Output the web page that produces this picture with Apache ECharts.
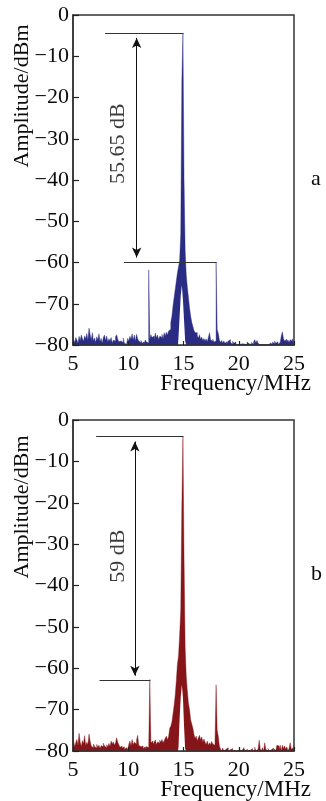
<!DOCTYPE html>
<html>
<head>
<meta charset="utf-8">
<script src="https://cdn.jsdelivr.net/npm/echarts@6/dist/echarts.min.js"></script>
<style>
  html, body { margin: 0; padding: 0; background: #fff; }
  #chart { width: 326px; height: 801px; }
</style>
</head>
<body>
<div id="chart"></div>
<script>
// frequency grid: 5.0 ... 25.0 MHz, 0.1 MHz step
const freqStart = 5;
const freqStep = 0.1;
const freqCount = 201;

// panel a, amplitude in dBm, one row per MHz
const ampA = [
  -79.2, -78.6, -79.5, -78.2, -78.8, -79.6, -77.9, -78.9, -77.6, -78.4,
  -79.1, -77.8, -78.5, -77.2, -78.9, -75.9, -77.5, -78.8, -77.0, -79.0,
  -78.3, -79.4, -78.0, -78.7, -77.3, -79.2, -78.4, -79.6, -78.1, -77.6,
  -78.9, -77.8, -79.3, -78.5, -79.0, -78.2, -79.5, -78.8, -79.1, -78.0,
  -77.5, -78.6, -79.2, -79.0, -78.7, -79.4, -78.3, -79.6, -79.8, -79.5,
  -78.4, -79.0, -77.9, -78.6, -77.3, -78.8, -77.6, -79.1, -77.4, -78.5,
  -79.0, -79.4, -78.9, -79.6, -79.2, -79.7, -78.8, -79.3, -79.5, -61.8,
  -78.6, -77.5, -78.2, -77.8, -78.9, -77.1, -78.3, -77.6, -78.7, -77.9,
  -78.1, -77.4, -78.5, -77.0, -77.8, -76.9, -77.6, -76.6, -76.2, -74.5,
  -73.0, -70.5, -68.5, -66.5, -64.5, -62.5, -61.0, -59.5, -53.0, -16.0,
  -4.35, -40.0, -57.0, -63.0, -66.0, -68.5, -71.0, -73.0, -74.5, -75.5,
  -76.5, -77.0, -77.0, -77.8, -78.3, -77.5, -78.6, -78.1, -78.9, -78.4,
  -79.0, -78.5, -79.2, -78.2, -77.0, -78.7, -79.1, -78.6, -79.3, -79.0,
  -60.0, -76.3, -77.2, -78.8, -79.4, -78.9, -79.5, -79.0, -79.6, -79.2,
  -79.7, -79.0, -78.7, -79.4, -79.8, -79.1, -79.6, -79.3, -79.9, -80.0,
  -80.0, -79.8, -80.0, -79.7, -79.4, -79.8, -79.5, -79.9, -79.3, -79.7,
  -79.5, -79.9, -79.4, -79.8, -79.2, -78.7, -79.5, -78.9, -79.6, -80.0,
  -80.0, -80.0, -80.0, -80.0, -80.0, -80.0, -80.0, -80.0, -80.0, -79.5,
  -79.8, -79.3, -79.7, -79.0, -79.6, -79.2, -79.8, -79.4, -79.0, -77.8,
  -76.8, -78.5, -79.0, -78.6, -79.3, -78.8, -79.4, -78.7, -79.1, -78.5,
  -79.0
];

// panel b
const ampB = [
  -78.5, -77.4, -79.0, -78.0, -77.2, -78.6, -75.7, -77.8, -78.9, -77.5,
  -78.2, -76.3, -78.7, -77.9, -78.4, -75.9, -77.6, -78.8, -79.2, -78.3,
  -78.9, -79.3, -78.4, -79.1, -78.6, -79.4, -78.7, -79.0, -78.1, -78.8,
  -79.2, -78.5, -79.0, -78.2, -78.9, -77.6, -78.3, -77.8, -78.6, -78.0,
  -76.8, -77.9, -78.5, -79.1, -78.8, -79.3, -79.0, -79.6, -79.2, -79.5,
  -79.7, -78.4, -77.6, -78.8, -77.2, -78.5, -77.9, -78.3, -77.4, -76.2,
  -78.6, -79.0, -79.3, -78.8, -79.4, -79.0, -79.5, -78.9, -79.2, -79.4,
  -62.7, -78.0, -77.6, -78.4, -77.9, -77.3, -78.5, -77.8, -78.1, -77.4,
  -77.9, -77.2, -78.0, -77.5, -76.9, -76.4, -77.3, -76.5, -74.5, -74.0,
  -73.0, -71.0, -69.0, -66.5, -63.0, -59.0, -57.0, -52.0, -46.0, -21.0,
  -4.0, -33.5, -55.0, -62.0, -65.5, -68.5, -70.0, -72.5, -73.5, -74.5,
  -76.0, -77.0, -76.4, -77.5, -76.8, -76.2, -77.3, -76.6, -77.8, -77.1,
  -77.9, -78.4, -77.6, -78.6, -78.0, -78.5, -77.7, -78.3, -78.6, -78.0,
  -64.0, -75.0, -76.5, -78.8, -79.5, -80.0, -79.3, -80.0, -79.6, -80.0,
  -79.2, -80.0, -79.7, -80.0, -79.4, -80.0, -80.0, -79.6, -80.0, -79.8,
  -80.0, -79.3, -80.0, -79.7, -80.0, -79.2, -79.8, -80.0, -79.5, -80.0,
  -79.8, -80.0, -79.4, -80.0, -79.7, -79.1, -80.0, -79.6, -80.0, -77.4,
  -79.5, -80.0, -79.2, -80.0, -78.0, -79.6, -80.0, -79.4, -80.0, -79.7,
  -80.0, -79.3, -80.0, -79.5, -80.0, -78.6, -78.8, -79.7, -78.6, -80.0,
  -78.6, -79.4, -78.8, -79.6, -79.0, -80.0, -79.4, -78.0, -79.5, -79.2,
  -78.5
];

// hollow under the carrier pedestal (floor missing there)
const gapFreq = [14.5, 14.6, 14.7, 14.8, 14.9, 15.0, 15.1, 15.2, 15.3];
const gapA = [-80, -78, -73, -68, -65.5, -69, -74, -79, -80];
const gapB = [-80, -79, -72, -67, -64, -67, -74, -79.5, -80];

// annotation levels
const carrierA = -4.35, refA = -60;
const carrierB = -4, refB = -63;

const xTicks = [5, 10, 15, 20, 25];
const yTicks = [0, -10, -20, -30, -40, -50, -60, -70, -80];

const freqs = [];
for (let i = 0; i < freqCount; i++) freqs.push(Math.round((freqStart + i * freqStep) * 10) / 10);
const pairs = (xs, ys) => xs.map((x, i) => [x, ys[i]]);

const FONT = '"Liberation Serif", "DejaVu Serif", serif';
const INK = '#0d0b0c';

const chart = echarts.init(document.getElementById('chart'));

function axes(idx) {
  return {
    x: {
      type: 'value', gridIndex: idx, min: xTicks[0], max: xTicks[xTicks.length - 1], interval: 5, z: 10,
      axisLine: { show: true, onZero: false, lineStyle: { color: '#333', width: 1.5 } },
      axisTick: { show: true, inside: true, length: 4, lineStyle: { color: '#222', width: 1.2 } },
      axisLabel: { fontFamily: FONT, fontSize: 22, color: INK, margin: 8 },
      splitLine: { show: false }
    },
    y: {
      type: 'value', gridIndex: idx, min: yTicks[yTicks.length - 1], max: yTicks[0], interval: 10, z: 10,
      axisLine: { show: true, onZero: false, lineStyle: { color: '#333', width: 1.5 } },
      axisTick: { show: true, inside: true, length: 6, lineStyle: { color: '#222', width: 1.2 } },
      axisLabel: { fontFamily: FONT, fontSize: 22, color: INK, margin: 4,
        formatter: v => String(v).replace('-', '\u2212') },
      splitLine: { show: false }
    }
  };
}

function panelSeries(idx, amp, gap, color, ann) {
  const base = { xAxisIndex: idx, yAxisIndex: idx, animation: false, silent: true };
  const inset = 1.2;
  return [
    Object.assign({}, base, {
      type: 'line', step: 'middle', symbol: 'none', data: pairs(freqs, amp),
      lineStyle: { color: color, width: 0.4 },
      areaStyle: { color: color, opacity: 1, origin: 'start' }
    }),
    Object.assign({}, base, {
      type: 'line', step: 'middle', symbol: 'none', data: pairs(gapFreq, gap),
      lineStyle: { width: 0 },
      areaStyle: { color: '#fff', opacity: 1, origin: 'start' }
    }),
    Object.assign({}, base, {
      type: 'scatter', symbolSize: 0, data: [ann.label],
      label: { show: true, position: 'inside', rotate: 90, formatter: ann.text,
        fontFamily: FONT, fontSize: 22, color: INK },
      markLine: {
        silent: true, animation: false, symbol: 'none', label: { show: false },
        lineStyle: { color: '#333', width: 1, type: 'solid' },
        data: [
          [{ coord: [ann.top[0], ann.top[2]] }, { coord: [ann.top[1], ann.top[2]] }],
          [{ coord: [ann.ref[0], ann.ref[2]] }, { coord: [ann.ref[1], ann.ref[2]] }]
        ]
      }
    }),
    Object.assign({}, base, {
      type: 'line', data: [], symbol: 'none',
      markLine: {
        silent: true, animation: false, symbol: ['arrow', 'arrow'], symbolSize: [7, 10],
        label: { show: false },
        lineStyle: { color: '#111', width: 1, type: 'solid' },
        data: [[{ coord: [ann.arrowX, ann.top[2] - inset] }, { coord: [ann.arrowX, ann.ref[2] + inset] }]]
      }
    })
  ];
}

const a0 = axes(0), a1 = axes(1);

chart.setOption({
  animation: false,
  textStyle: { fontFamily: FONT },
  grid: [
    { left: 73, top: 15, width: 221, height: 330, show: true, borderColor: '#333', borderWidth: 1.5, backgroundColor: 'transparent' },
    { left: 73, top: 420, width: 221, height: 331, show: true, borderColor: '#333', borderWidth: 1.5, backgroundColor: 'transparent' }
  ],
  xAxis: [a0.x, a1.x],
  yAxis: [a0.y, a1.y],
  series: [].concat(
    panelSeries(0, ampA, gapA, '#2a2c84', {
      label: [9.12, -31.2], text: '55.65 dB', arrowX: 10.76,
      top: [7.9, 15, carrierA], ref: [9.6, 18, refA]
    }),
    panelSeries(1, ampB, gapB, '#86151a', {
      label: [9.12, -32.9], text: '59 dB', arrowX: 10.6,
      top: [7.1, 15, carrierB], ref: [7.4, 12, refB]
    })
  ),
  graphic: [
    { type: 'text', x: 22, y: 96, rotation: Math.PI / 2,
      style: { text: 'Amplitude/dBm', font: '22px ' + FONT, fill: INK, textAlign: 'center', textVerticalAlign: 'middle', align: 'center', verticalAlign: 'middle' } },
    { type: 'text', x: 22, y: 507, rotation: Math.PI / 2,
      style: { text: 'Amplitude/dBm', font: '22px ' + FONT, fill: INK, textAlign: 'center', textVerticalAlign: 'middle', align: 'center', verticalAlign: 'middle' } },
    { type: 'text', right: 15, top: 372,
      style: { text: 'Frequency/MHz', font: '23px ' + FONT, fill: INK } },
    { type: 'text', right: 15, top: 778,
      style: { text: 'Frequency/MHz', font: '23px ' + FONT, fill: INK } },
    { type: 'text', left: 311, top: 168,
      style: { text: 'a', font: '22px ' + FONT, fill: INK } },
    { type: 'text', left: 311, top: 563,
      style: { text: 'b', font: '22px ' + FONT, fill: INK } }
  ]
});

window.addEventListener('resize', () => chart.resize());
</script>
</body>
</html>
